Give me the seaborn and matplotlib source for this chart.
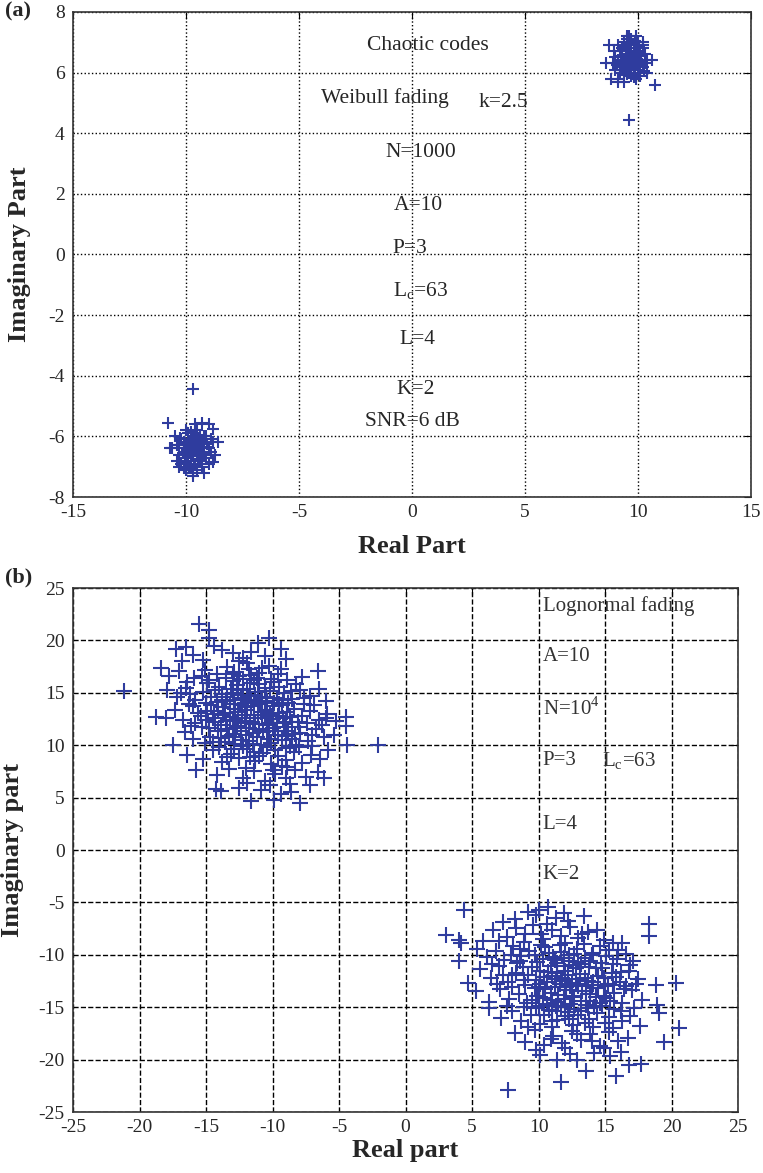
import numpy as np
import pandas as pd
import matplotlib
matplotlib.use('Agg')
import matplotlib.pyplot as plt
import seaborn as sns

# ---- data (real, imaginary) ----
# (a) Weibull fading, two small clusters
weibull_pos = [
    (9.6, 6.4), (9.8, 6.5), (9.7, 6.2), (9.9, 6.3), (9.5, 6.6), (10.0, 6.6), (9.4, 6.3), (9.7, 6.8),
    (9.9, 6.9), (10.1, 6.4), (9.3, 6.5), (9.6, 6.0), (9.8, 6.0), (10.2, 6.2), (9.2, 6.2), (9.5, 6.9),
    (10.0, 7.0), (9.7, 7.1), (9.3, 6.8), (10.3, 6.6), (9.1, 6.4), (9.4, 6.0), (10.1, 5.9), (9.9, 6.7),
    (9.6, 6.7), (9.8, 6.3), (9.5, 6.2), (10.0, 6.1), (9.2, 6.7), (10.2, 6.8), (9.0, 6.5), (9.3, 6.1),
    (9.7, 5.9), (9.9, 5.8), (10.4, 6.4), (10.4, 6.0), (9.6, 7.2), (9.9, 7.2), (9.4, 7.0), (10.2, 7.0),
    (9.0, 6.1), (8.9, 6.3), (9.1, 5.8), (9.4, 5.7), (9.1, 5.7), (8.8, 5.8), (8.7, 6.9), (8.6, 6.3),
    (10.6, 6.4), (10.2, 6.9), (9.5, 7.2), (9.8, 6.6), (9.6, 6.5), (10.0, 6.4), (9.3, 6.4), (10.1, 6.7),
    (9.7, 6.4), (9.5, 7.1), (10.75, 5.6), (9.6, 4.45), (9.1, 6.9), (8.95, 6.7),
    (9.55, 6.45), (9.75, 6.55), (9.85, 6.15), (9.45, 6.75), (10.05, 6.85), (9.65, 6.95), (9.35, 6.35),
    (10.15, 6.55), (9.75, 6.25), (9.95, 6.45), (9.25, 6.55), (10.3, 6.3), (9.6, 6.1), (9.85, 7.05),
    (9.45, 6.15), (10.0, 6.25), (9.7, 6.65), (9.2, 6.0), (10.25, 6.05), (9.05, 6.25), (9.8, 5.85), (9.5, 5.95),
]
weibull_neg = [
    (-9.6, -6.4), (-9.5, -6.3), (-9.3, -6.5), (-9.8, -6.6), (-9.4, -6.8), (-9.7, -6.1), (-9.9, -6.3),
    (-9.2, -6.2), (-9.0, -6.4), (-10.0, -6.7), (-9.6, -6.9), (-9.3, -7.0), (-9.8, -7.0), (-10.1, -6.4),
    (-10.2, -6.9), (-9.1, -6.7), (-8.9, -6.5), (-9.4, -6.0), (-9.1, -6.0), (-8.8, -6.2), (-9.6, -5.9),
    (-9.9, -5.9), (-10.2, -6.1), (-10.4, -6.3), (-10.3, -6.6), (-9.5, -7.1), (-9.7, -7.2), (-10.0, -7.1),
    (-10.3, -7.0), (-9.2, -7.2), (-8.8, -6.85), (-8.6, -6.2), (-8.8, -5.75), (-9.0, -5.6), (-9.3, -5.55),
    (-9.6, -5.6), (-10.0, -5.8), (-10.5, -6.0), (-10.6, -6.4), (-10.7, -6.4), (-10.8, -5.56), (-9.69, -4.45),
    (-10.1, -7.05), (-9.7, -7.3), (-9.4, -6.4), (-9.7, -6.5), (-9.5, -6.6), (-9.8, -6.2), (-10.0, -6.5),
    (-9.2, -6.6), (-9.0, -6.9), (-8.9, -6.1), (-10.4, -6.8), (-9.3, -6.2), (-9.9, -6.8), (-10.1, -6.2),
    (-9.5, -5.8), (-8.7, -6.6),
    (-9.55, -6.45), (-9.75, -6.55), (-9.85, -6.15), (-9.45, -6.75), (-10.05, -6.85), (-9.65, -6.95),
    (-9.35, -6.35), (-10.15, -6.55), (-9.75, -6.25), (-9.95, -6.45), (-9.25, -6.55), (-10.3, -6.3),
    (-9.6, -6.1), (-9.85, -7.05), (-9.45, -6.15), (-10.0, -6.25), (-9.7, -6.65), (-9.2, -6.0),
    (-10.25, -6.05), (-9.05, -6.25), (-9.8, -5.85), (-9.5, -5.95),
]

# (b) Lognormal fading, two wide clusters
lognormal_upper = [
    (-15.5, 21.6), (-14.75, 21.0), (-14.75, 20.2), (-11.1, 19.8), (-10.25, 20.2), (-9.4, 19.2), (-14.4, 19.5),
    (-17.25, 19.2), (-16.5, 19.4), (-16.0, 18.6), (-15.2, 18.1), (-13.0, 18.8), (-12.2, 18.3), (-11.6, 18.9),
    (-10.6, 18.5), (-9.0, 18.2), (-13.8, 19.1), (-16.8, 18.0),
    (-18.4, 17.4), (-17.8, 16.6), (-17.0, 17.1), (-15.9, 16.4), (-15.1, 17.2), (-14.2, 16.8), (-13.4, 17.5),
    (-12.5, 16.6), (-11.8, 17.3), (-11.0, 16.9), (-10.3, 17.6), (-9.6, 16.8), (-8.9, 16.2), (-7.8, 16.5),
    (-6.6, 17.1), (-16.4, 16.0), (-13.0, 16.1), (-11.4, 16.2), (-12.9, 17.0), (-14.8, 16.2),
    (-21.2, 15.2), (-17.9, 15.3), (-17.2, 14.6), (-16.5, 15.5), (-15.8, 14.3), (-15.2, 15.1), (-14.6, 14.6),
    (-14.0, 15.6), (-13.5, 14.2), (-13.0, 15.0), (-12.4, 14.5), (-11.9, 15.4), (-11.3, 14.8), (-10.8, 14.1),
    (-10.2, 15.2), (-9.7, 14.5), (-9.1, 15.0), (-8.5, 14.4), (-7.9, 15.3), (-7.2, 14.7), (-6.5, 15.4),
    (-6.0, 14.2), (-12.7, 15.7), (-11.0, 15.8), (-9.5, 15.6), (-13.8, 14.9), (-12.1, 14.0), (-10.5, 14.6),
    (-8.8, 14.0), (-16.2, 14.9), (-15.0, 14.0), (-11.6, 14.3), (-14.3, 15.3), (-8.2, 15.8), (-12.9, 14.3),
    (-18.0, 12.6), (-18.75, 12.7), (-17.3, 13.4), (-16.7, 12.4), (-16.0, 13.7), (-15.4, 12.8), (-14.9, 13.3),
    (-14.3, 12.2), (-13.7, 13.6), (-13.2, 12.7), (-12.6, 13.2), (-12.1, 12.3), (-11.6, 13.7), (-11.1, 12.9),
    (-10.6, 13.4), (-10.0, 12.5), (-9.5, 13.1), (-9.0, 12.2), (-8.4, 13.5), (-7.8, 12.8), (-7.2, 13.3),
    (-6.5, 12.4), (-5.9, 13.0), (-4.5, 12.7), (-12.9, 13.9), (-11.3, 12.0), (-10.3, 12.1), (-13.5, 12.3),
    (-14.6, 13.8), (-9.3, 13.8), (-8.1, 12.2), (-15.8, 12.1), (-12.3, 12.9), (-10.8, 12.6), (-11.9, 13.4),
    (-6.9, 13.8),
    (-17.5, 10.0), (-16.6, 11.3), (-16.0, 10.6), (-15.3, 11.7), (-14.7, 10.8), (-14.1, 11.4), (-13.6, 10.3),
    (-13.0, 11.1), (-12.4, 10.5), (-11.8, 11.6), (-11.2, 10.8), (-10.7, 11.3), (-10.1, 10.2), (-9.6, 11.0),
    (-9.1, 11.7), (-8.5, 10.6), (-7.9, 11.2), (-7.3, 10.4), (-6.7, 11.5), (-6.1, 10.8), (-5.4, 11.0),
    (-4.5, 11.8), (-4.4, 10.0), (-2.1, 10.0), (-12.7, 11.8), (-10.4, 11.9), (-8.8, 11.4), (-13.3, 10.9),
    (-11.5, 10.1), (-9.3, 10.5), (-7.0, 11.0), (-15.1, 10.2), (-12.0, 11.0), (-8.2, 10.0),
    (-16.4, 9.1), (-15.2, 8.7), (-14.5, 9.5), (-13.8, 8.4), (-13.1, 9.2), (-12.5, 8.8), (-11.9, 9.6),
    (-11.3, 8.5), (-10.7, 9.3), (-10.1, 8.2), (-9.6, 9.0), (-9.0, 8.6), (-8.4, 9.4), (-7.8, 8.3),
    (-7.1, 9.1), (-6.4, 8.7), (-5.8, 9.5), (-12.2, 9.9), (-10.4, 9.8), (-8.7, 9.9), (-14.0, 9.8), (-9.3, 8.0),
    (-15.75, 7.6), (-14.2, 7.2), (-13.3, 7.7), (-12.2, 6.9), (-11.4, 7.5), (-10.6, 6.6), (-9.8, 7.3),
    (-9.0, 6.9), (-8.3, 7.6), (-7.5, 7.0), (-6.6, 7.4), (-6.1, 6.9), (-10.2, 6.2), (-8.7, 6.3), (-11.9, 6.4),
    (-13.9, 5.6), (-14.25, 5.8), (-7.9, 4.5), (-11.6, 4.7), (-9.9, 4.8), (-8.6, 5.5), (-10.9, 5.7),
    (-12.5, 5.9), (-9.4, 5.3), (-7.2, 6.2),
    (-12.0, 13.6), (-11.0, 13.9), (-10.0, 13.7), (-13.0, 12.4), (-12.0, 12.1), (-11.0, 11.5), (-10.0, 11.6),
    (-13.9, 11.9), (-9.2, 12.6), (-11.4, 14.1), (-12.6, 15.3), (-10.6, 15.5), (-9.9, 14.0), (-13.4, 14.6),
    (-8.9, 13.2), (-11.8, 10.4), (-10.9, 10.0), (-12.9, 10.1), (-9.8, 9.5), (-11.7, 8.9), (-13.6, 13.1),
    (-8.0, 11.7), (-14.5, 12.6), (-12.4, 11.4), (-10.2, 13.0), (-11.4, 12.6), (-12.8, 13.5), (-9.7, 12.1),
    (-10.9, 14.5), (-11.7, 15.9),
    (-14.2, 14.1), (-13.1, 15.4), (-12.2, 16.3), (-11.1, 15.1), (-10.1, 16.3), (-9.2, 14.3), (-8.6, 15.2),
    (-13.7, 12.9), (-12.8, 11.6), (-11.7, 12.2), (-10.6, 12.9), (-9.8, 11.4), (-8.7, 12.7), (-7.6, 13.9),
    (-14.8, 11.6), (-13.9, 10.7), (-12.9, 9.6), (-11.4, 9.4), (-10.3, 10.6), (-9.0, 9.7), (-8.0, 9.8),
    (-7.4, 12.1), (-6.3, 11.9), (-15.6, 13.1), (-16.3, 13.9), (-14.9, 15.9), (-13.5, 16.4), (-11.9, 17.8),
    (-10.8, 17.4), (-12.5, 18.0), (-9.4, 17.3), (-15.3, 16.6), (-16.9, 15.0), (-14.1, 13.3), (-12.4, 13.8),
    (-10.4, 14.2), (-9.6, 12.8), (-8.3, 11.1), (-11.0, 9.0), (-12.0, 7.8), (-10.0, 7.6), (-8.9, 7.9),
    (-13.4, 8.9), (-14.5, 10.3), (-16.1, 11.8), (-7.0, 9.9), (-6.0, 12.6), (-5.2, 12.3), (-11.6, 16.7),
    (-13.2, 13.9),
    (-12.6, 12.6), (-11.5, 11.2), (-10.4, 11.4), (-13.4, 11.5), (-12.2, 14.8), (-10.9, 13.2), (-9.5, 13.9),
    (-13.8, 14.3), (-11.8, 14.7), (-10.1, 12.8), (-12.8, 10.8), (-9.0, 10.9), (-14.4, 13.0), (-8.5, 12.2),
    (-11.2, 16.4), (-13.0, 16.8), (-9.9, 16.0), (-15.0, 12.4), (-7.6, 14.5), (-12.2, 10.0),
]
lognormal_lower = [
    (4.4, -5.7), (10.0, -5.7), (9.2, -5.9), (10.7, -5.45), (13.4, -6.3), (11.3, -6.5), (8.2, -6.6),
    (7.3, -6.9), (12.2, -6.8), (9.8, -6.2), (11.9, -6.0),
    (3.05, -8.1), (4.05, -8.6), (4.2, -8.9), (6.6, -7.6), (7.6, -8.3), (8.3, -7.4), (9.0, -8.0),
    (9.6, -7.2), (10.3, -8.5), (11.0, -7.6), (11.7, -8.2), (12.4, -7.3), (13.0, -8.4), (13.7, -7.8),
    (14.4, -7.6), (14.9, -8.6), (15.6, -8.9), (18.3, -7.1), (18.3, -8.2), (8.9, -8.8), (12.0, -8.9),
    (10.6, -7.1), (7.0, -8.7), (16.3, -8.9), (5.8, -8.7),
    (4.05, -10.6), (5.4, -9.4), (6.1, -10.2), (6.8, -9.6), (7.4, -10.5), (8.1, -9.2), (8.7, -10.1),
    (9.3, -9.6), (9.9, -10.7), (10.5, -9.3), (11.1, -10.2), (11.7, -9.7), (12.3, -10.6), (12.9, -9.4),
    (13.5, -10.3), (14.1, -9.8), (14.7, -10.8), (15.3, -9.5), (15.9, -10.4), (16.6, -9.9), (17.1, -10.6),
    (10.2, -9.1), (13.2, -10.9), (8.4, -10.8), (11.4, -10.8), (6.5, -10.9), (15.6, -10.9),
    (4.7, -12.7), (5.6, -11.4), (6.4, -12.2), (7.0, -11.1), (7.7, -12.6), (8.3, -11.7), (8.9, -12.4),
    (9.5, -11.2), (10.1, -12.8), (10.7, -11.6), (11.3, -12.3), (11.9, -11.1), (12.5, -12.7), (13.1, -11.8),
    (13.7, -12.5), (14.3, -11.3), (14.9, -12.2), (15.5, -11.7), (16.1, -12.6), (16.8, -11.5), (17.5, -12.3),
    (18.8, -12.9), (20.3, -12.7), (9.2, -11.9), (12.2, -11.9), (14.0, -12.9), (10.4, -12.1), (12.8, -11.3),
    (15.2, -12.8), (7.3, -11.9), (11.6, -12.8),
    (5.3, -13.5), (6.3, -14.5), (7.1, -13.3), (7.8, -14.2), (8.5, -13.7), (9.1, -14.6), (9.7, -13.2),
    (10.3, -14.1), (10.9, -13.6), (11.5, -14.5), (12.1, -13.1), (12.7, -14.0), (13.3, -13.5), (13.9, -14.4),
    (14.5, -13.2), (15.1, -14.1), (15.7, -13.6), (16.3, -14.6), (17.0, -13.4), (17.8, -14.3), (18.9, -14.8),
    (11.2, -13.1), (13.6, -14.8), (12.4, -14.7), (14.8, -14.9), (10.0, -14.9), (16.6, -13.0), (8.0, -13.1),
    (6.3, -15.1), (7.2, -16.05), (8.0, -15.4), (8.7, -16.3), (9.4, -15.7), (10.1, -16.6), (10.8, -15.3),
    (11.4, -16.2), (12.0, -15.8), (12.6, -16.7), (13.2, -15.4), (13.8, -16.1), (14.4, -15.6), (15.0, -16.5),
    (15.7, -15.2), (16.3, -16.3), (16.9, -15.8), (19.05, -15.6), (20.55, -17.0), (17.6, -16.8), (11.0, -16.9),
    (14.1, -16.9), (9.8, -15.1),
    (8.2, -17.5), (9.0, -18.3), (9.7, -17.2), (10.4, -18.6), (11.1, -17.7), (11.8, -18.4), (12.5, -17.3),
    (13.2, -18.1), (13.9, -17.6), (14.6, -18.7), (15.3, -17.4), (16.0, -18.2), (16.7, -17.9), (19.4, -18.3),
    (12.0, -18.9), (14.9, -18.9),
    (9.8, -19.1), (11.4, -20.0), (12.9, -20.0), (15.4, -19.7), (16.8, -20.5), (17.7, -20.4), (13.6, -21.1),
    (15.8, -21.6), (11.7, -22.1), (7.7, -22.9), (10.1, -19.6), (14.2, -19.4), (16.2, -19.3), (12.4, -19.5),
    (11.0, -12.0), (12.0, -12.5), (13.0, -13.0), (11.5, -13.8), (12.5, -13.9), (13.5, -12.2), (10.5, -13.3),
    (12.0, -11.5), (14.5, -12.0), (11.2, -10.5), (13.8, -11.2), (12.7, -15.2), (10.6, -14.7), (14.2, -15.0),
    (9.8, -12.4), (15.0, -13.0), (12.3, -10.0), (10.9, -11.1), (13.2, -14.4), (11.9, -14.2),
    (11.6, -9.1), (12.7, -9.9), (13.9, -10.6), (14.8, -11.3), (15.8, -12.1), (16.4, -13.3), (15.4, -14.4),
    (14.3, -14.0), (13.1, -12.3), (12.1, -13.4), (11.0, -14.3), (9.9, -13.9), (9.0, -12.9), (8.0, -11.9),
    (8.6, -10.6), (9.7, -10.0), (10.8, -9.8), (13.4, -9.0), (14.6, -9.2), (15.1, -10.1), (16.9, -11.0),
    (17.3, -12.8), (16.2, -15.4), (15.3, -15.9), (13.5, -16.5), (12.3, -16.1), (11.7, -15.0), (10.4, -15.7),
    (9.2, -16.9), (10.9, -18.0), (12.9, -17.6), (14.0, -18.2), (15.6, -17.0), (13.3, -8.0), (10.2, -8.0),
    (8.6, -9.4), (7.9, -10.0), (6.9, -12.8), (7.6, -14.9), (8.9, -15.0), (17.2, -15.1), (16.0, -9.5),
    (12.6, -11.0), (11.4, -11.7), (13.9, -13.7), (14.9, -13.9), (10.1, -11.5), (12.0, -14.9), (13.0, -15.7),
    (11.0, -16.3),
    (11.8, -12.2), (12.8, -12.8), (13.6, -13.5), (10.6, -12.6), (11.3, -14.9), (12.4, -13.0), (14.1, -12.6),
    (13.0, -10.7), (10.0, -13.1), (15.6, -12.9), (12.2, -15.5), (11.0, -15.4), (14.6, -14.6), (9.5, -14.3),
    (13.7, -15.1), (8.8, -11.2), (11.9, -10.3), (14.0, -10.0), (16.2, -11.6), (10.3, -10.4),
]

weibull_notes = ['Chaotic codes', 'Weibull fading', 'k=2.5', 'N=1000', 'A=10', 'P=3',
                 r'L$_\mathregular{c}$=63', 'L=4', 'K=2', 'SNR=6 dB']
weibull_note_xy = [(0.7, 6.9), (-1.2, 5.15), (4.05, 5.0), (0.4, 3.38), (0.3, 1.63), (-0.1, 0.2),
                   (0.4, -1.2), (0.25, -2.82), (0.15, -4.45), (0.0, -5.5)]
lognormal_notes = ['Lognormal fading', 'A=10', r'N=10$^\mathregular{4}$', 'P=3',
                   r'L$_\mathregular{c}$=63', 'L=4', 'K=2']
lognormal_note_xy = [(10.3, 23.3), (10.3, 18.5), (10.3, 13.5), (10.3, 8.5), (14.8, 8.5),
                     (10.3, 2.4), (10.3, -2.3)]

blue = '#2F3C9E'

sns.set_style('white')
plt.rcParams['font.family'] = ['Liberation Serif', 'DejaVu Serif']
plt.rcParams['mathtext.fontset'] = 'custom'
plt.rcParams['mathtext.rm'] = 'Liberation Serif'
plt.rcParams['axes.unicode_minus'] = False

fig = plt.figure(figsize=(7.63, 11.73), dpi=100)
ax1 = fig.add_axes([0.0957, 0.5763, 0.8886, 0.4135])
ax2 = fig.add_axes([0.0957, 0.052, 0.8716, 0.4467])


def to_frame(points):
    arr = np.array(points)
    return pd.DataFrame({'re': arr[:, 0], 'im': arr[:, 1]})


def style_axes(ax, grid_style):
    ax.grid(True, color='black', linestyle=grid_style, linewidth=1.0)
    ax.tick_params(direction='in', length=5, top=True, right=True,
                   labelsize=14, color='black')
    ax.tick_params(axis='x', pad=5)
    ax.tick_params(axis='y', pad=6)
    for s in ax.spines.values():
        s.set_color('#333333')
        s.set_linewidth(1.2)
    ax.set_axisbelow(True)


# (a)
for pts in (weibull_pos, weibull_neg):
    sns.scatterplot(data=to_frame(pts), x='re', y='im', marker='+', s=85,
                    color=blue, linewidth=1.5, ax=ax1, legend=False)
ax1.set_xlim(-15, 15)
ax1.set_ylim(-8, 8)
ax1.set_xticks(np.arange(-15, 16, 5))
ax1.set_yticks(np.arange(-8, 9, 2))
style_axes(ax1, ':')
ax1.set_xlabel('Real Part', fontsize=19, fontweight='bold', labelpad=10)
ax1.set_ylabel('Imaginary Part', fontsize=19, fontweight='bold')
ax1.yaxis.set_label_coords(-0.062, 0.5)
for txt, (x, y) in zip(weibull_notes, weibull_note_xy):
    ax1.text(x, y, txt, ha='center', va='center', fontsize=15.5)
fig.text(0.007, 0.99, '(a)', fontsize=16, fontweight='bold', va='center')

# (b)
for pts in (lognormal_upper, lognormal_lower):
    sns.scatterplot(data=to_frame(pts), x='re', y='im', marker='+', s=125,
                    color=blue, linewidth=1.5, ax=ax2, legend=False)
ax2.set_xlim(-25, 25)
ax2.set_ylim(-25, 25)
ax2.set_xticks(np.arange(-25, 26, 5))
ax2.set_yticks(np.arange(-25, 26, 5))
style_axes(ax2, '--')
ax2.set_xlabel('Real part', fontsize=19, fontweight='bold', labelpad=2)
ax2.set_ylabel('Imaginary part', fontsize=19, fontweight='bold')
ax2.yaxis.set_label_coords(-0.074, 0.5)
for txt, (x, y) in zip(lognormal_notes, lognormal_note_xy):
    ax2.text(x, y, txt, ha='left', va='center', fontsize=15, color='#333333')
fig.text(0.007, 0.508, '(b)', fontsize=16, fontweight='bold', va='center')

fig.savefig('out.png', dpi=100)
